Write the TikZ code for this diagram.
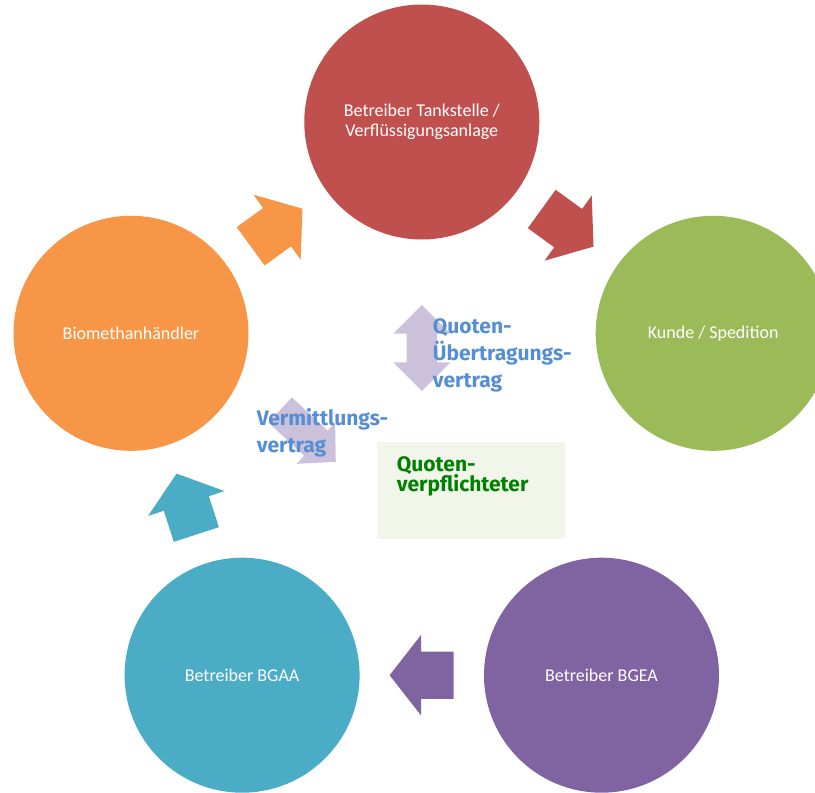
\documentclass[tikz,border=0pt]{standalone}
\usepackage{fontspec}
\setmainfont{Carlito}
\newfontfamily\labelfont{Fira Sans}
\usetikzlibrary{shapes.arrows,calc}
\definecolor{tankred}{HTML}{C0504D}
\definecolor{kundegreen}{HTML}{9BBB59}
\definecolor{bgeapurple}{HTML}{8064A2}
\definecolor{bgaateal}{HTML}{4BACC6}
\definecolor{handelorange}{HTML}{F79646}
\definecolor{lilac}{HTML}{CCC1DA}
\definecolor{vertragblue}{HTML}{558ED5}
\definecolor{boxgreen}{HTML}{F2F6EA}
\definecolor{quotegreen}{HTML}{008000}
\begin{document}
\begin{tikzpicture}[x=1pt,y=1pt,yscale=-1,
	stage/.style={circle,minimum size=235pt,inner sep=0pt,align=center,text=white,font=\fontsize{18}{20}\selectfont},
	cyclearrow/.style={single arrow,anchor=tail,minimum height=64pt,inner xsep=0pt,inner ysep=23.5pt,single arrow head extend=16.5pt,single arrow tip angle=104},
	contract/.style={fill=lilac,inner xsep=0pt,inner ysep=15pt},
	contractlabel/.style={anchor=base west,inner sep=0pt,align=left,text=vertragblue,font=\labelfont\bfseries\fontsize{21}{27}\selectfont}]
	\clip (0,0) rectangle (815,793);
	\node[stage,fill=tankred] (tankstelle) at (421.8,122) {Betreiber Tankstelle /\\Verflüssigungsanlage};
	\node[stage,fill=kundegreen] (kunde) at (713.2,333.3) {Kunde / Spedition};
	\node[stage,fill=bgeapurple] (bgea) at (601.5,675.2) {Betreiber BGEA};
	\node[stage,fill=bgaateal] (bgaa) at (242.1,675.2) {Betreiber BGAA};
	\node[stage,fill=handelorange] (haendler) at (131,333.3) {Biomethanhändler};
	\node[cyclearrow,fill=handelorange,rotate=36] (haendlerpfeil) at ($(haendler)!0.5!(tankstelle)!32pt!(haendler)$) {};
	\node[cyclearrow,fill=tankred,rotate=-36] (tankpfeil) at ($(tankstelle)!0.5!(kunde)!32pt!(tankstelle)$) {};
	\node[cyclearrow,fill=bgeapurple,rotate=180] (bgeapfeil) at ($(bgea)!0.5!(bgaa)!32pt!(bgea)$) {};
	\node[cyclearrow,fill=bgaateal,rotate=108] (bgaapfeil) at ($(bgaa)!0.5!(haendler)!32pt!(bgaa)$) {};
	\node[contract,double arrow,minimum height=86pt,double arrow head extend=13.5pt,double arrow tip angle=90,rotate=90] (quotenpfeil) at (421.8,348) {};
	\node[contract,single arrow,anchor=tip,minimum height=76pt,inner ysep=17pt,single arrow head extend=11pt,single arrow tip angle=92,rotate=-43] (vermittlungspfeil) at (336,462) {};
	\node[fill=boxgreen,minimum width=188pt,minimum height=97pt,inner sep=0pt] (quotenbox) at (471,490.5) {};
	\node[contractlabel] (uebertragung) at (432.7,387.3) {Quoten-\\Übertragungs-\\vertrag};
	\node[contractlabel] (vermittlung) at (256.7,452.7) {Vermittlungs-\\vertrag};
	\node[contractlabel,text=quotegreen,font=\labelfont\bfseries\fontsize{21}{20.7}\selectfont] (verpflichteter) at (396.7,491.7) {Quoten-\\verpflichteter};
\end{tikzpicture}
\end{document}
